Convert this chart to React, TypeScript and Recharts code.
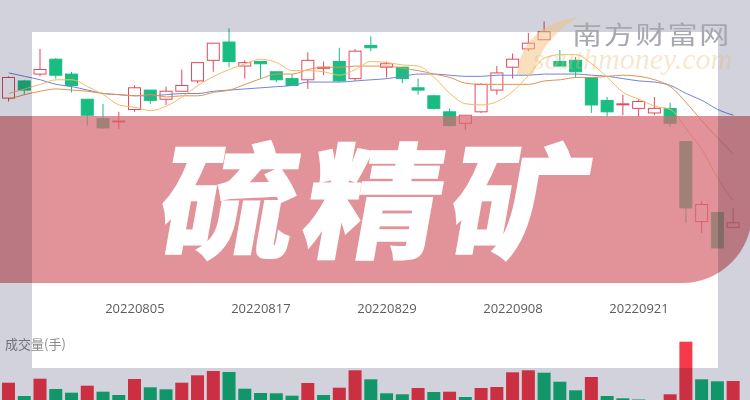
import { Bar, Cell, ComposedChart, Line, XAxis, YAxis } from "recharts"

const dates = [
  "20220726", "20220727", "20220728", "20220729", "20220801", "20220802", "20220803", "20220804",
  "20220805", "20220808", "20220809", "20220810", "20220811", "20220812", "20220815", "20220816",
  "20220817", "20220818", "20220819", "20220822", "20220823", "20220824", "20220825", "20220826",
  "20220829", "20220830", "20220831", "20220901", "20220902", "20220905", "20220906", "20220907",
  "20220908", "20220909", "20220913", "20220914", "20220915", "20220916", "20220919", "20220920",
  "20220921", "20220922", "20220923", "20220926", "20220927", "20220928", "20220929",
]

const opens = [
  8.73, 8.88, 8.94, 9.07, 8.94, 8.72, 8.55, 8.53, 8.63, 8.8, 8.72, 8.79, 8.88, 9.06, 9.22, 9.01,
  9.05, 8.96, 8.9, 8.89, 8.99, 9.05, 8.9, 9.19, 9.0, 9.0, 8.82, 8.75, 8.61, 8.51, 8.61, 8.8,
  9.0, 9.16, 9.24, 9.05, 9.06, 8.91, 8.71, 8.68, 8.64, 8.6, 8.64, 8.35, 7.65, 7.73, 7.6,
]
const closes = [
  8.91, 8.8, 8.98, 8.93, 8.84, 8.58, 8.47, 8.53, 8.82, 8.71, 8.79, 8.84, 9.04, 9.21, 9.05, 9.04,
  9.03, 8.89, 8.84, 9.06, 9.0, 8.88, 9.14, 9.17, 9.03, 8.9, 8.8, 8.64, 8.49, 8.58, 8.85, 8.95,
  9.07, 9.21, 9.31, 9.01, 8.96, 8.67, 8.61, 8.68, 8.7, 8.64, 8.51, 7.77, 7.8, 7.42, 7.64,
]
const highs = [
  8.92, 8.89, 9.16, 9.08, 8.96, 8.72, 8.68, 8.61, 8.84, 8.8, 8.83, 8.98, 9.04, 9.21, 9.34, 9.06,
  9.05, 8.96, 8.94, 9.13, 9.05, 9.17, 9.16, 9.27, 9.05, 9.0, 8.9, 8.76, 8.64, 8.58, 8.86, 9.01,
  9.12, 9.3, 9.4, 9.15, 9.09, 8.91, 8.74, 8.76, 8.72, 8.74, 8.69, 8.35, 7.83, 7.73, 7.77,
]
const lows = [
  8.7, 8.76, 8.92, 8.9, 8.78, 8.49, 8.46, 8.46, 8.61, 8.68, 8.67, 8.79, 8.86, 8.96, 9.0, 8.9,
  8.9, 8.87, 8.84, 8.81, 8.93, 8.87, 8.88, 9.14, 8.91, 8.86, 8.76, 8.63, 8.48, 8.45, 8.6, 8.76,
  8.9, 9.14, 9.24, 9.01, 8.91, 8.6, 8.57, 8.58, 8.57, 8.58, 8.48, 7.64, 7.55, 7.42, 7.6,
]

const ma5 = [
  8.77, 8.81, 8.85, 8.89, 8.89, 8.83, 8.76, 8.67, 8.65, 8.62, 8.66, 8.74, 8.84, 8.92, 8.98, 9.03,
  9.07, 9.04, 8.97, 8.97, 8.96, 8.93, 8.98, 9.05, 9.04, 9.02, 9.01, 8.91, 8.77, 8.68, 8.67, 8.7,
  8.79, 8.93, 9.08, 9.11, 9.11, 9.03, 8.91, 8.78, 8.72, 8.66, 8.63, 8.46, 8.28, 8.03, 7.83,
]
const ma10 = [
  8.72, 8.76, 8.79, 8.81, 8.8, 8.79, 8.77, 8.76, 8.75, 8.76, 8.74, 8.75, 8.75, 8.78, 8.8, 8.85,
  8.9, 8.94, 8.94, 8.98, 9.0, 9.0, 9.01, 9.01, 9.01, 8.99, 8.97, 8.94, 8.91, 8.86, 8.85, 8.85,
  8.85, 8.85, 8.88, 8.89, 8.91, 8.91, 8.92, 8.93, 8.92, 8.89, 8.83, 8.69, 8.53, 8.38, 8.24,
]
const ma20 = [
  8.95, 8.92, 8.89, 8.85, 8.83, 8.8, 8.77, 8.76, 8.75, 8.75, 8.76, 8.77, 8.77, 8.79, 8.8, 8.81,
  8.82, 8.83, 8.84, 8.87, 8.87, 8.87, 8.88, 8.89, 8.9, 8.92, 8.94, 8.94, 8.93, 8.92, 8.92, 8.93,
  8.93, 8.93, 8.94, 8.94, 8.94, 8.93, 8.92, 8.9, 8.88, 8.87, 8.84, 8.77, 8.71, 8.63, 8.58,
]

// 成交量(手)
const volumes = [
  19300, 6000, 23300, 13000, 9300, 16300, 10300, 7000, 23000, 14700, 12700, 19300, 26700, 31000, 30000, 13300,
  9000, 8700, 6300, 19000, 7000, 14300, 31700, 22700, 8700, 7700, 14000, 10000, 10300, 5000, 14000, 15000,
  29700, 31700, 29300, 20300, 11700, 25000, 6000, 3700, 2500, 1500, 7700, 60300, 22700, 20700, 21000,
]
const volumeUp = [
  1, 0, 1, 0, 0, 1, 0, 0, 1, 0, 0, 1, 1, 1, 0, 0,
  0, 0, 0, 1, 0, 1, 1, 0, 0, 0, 1, 0, 1, 0, 1, 1,
  1, 1, 0, 0, 0, 1, 0, 0, 0, 0, 1, 1, 0, 0, 1,
]

const labelDates = ["20220805", "20220817", "20220829", "20220908", "20220921"]
const priceTicks = [7.1, 8.0, 8.9]

const table = dates.map((date, i) => ({
  date,
  open: opens[i],
  close: closes[i],
  high: highs[i],
  low: lows[i],
  range: [lows[i], highs[i]],
  ma5: ma5[i],
  ma10: ma10[i],
  ma20: ma20[i],
  volume: volumes[i],
  up: volumeUp[i] === 1,
}))

const RED = "#e4485d"
const GREEN = "#19bd82"
const VOL_RED = "#f7394c"
const VOL_GREEN = "#17b57b"
const GRAY = "#d1d2db"

function Candle(props: any) {
  const { x, y, width, height, payload } = props
  if (!payload || height == null) return null
  const { open, close, high, low } = payload
  const up = close >= open
  const color = up ? RED : GREEN
  const pix = (v: number) => y + ((high - v) / (high - low)) * height
  const top = pix(Math.max(open, close))
  const bottom = pix(Math.min(open, close))
  const cx = x + width / 2
  return (
    <g>
      <line x1={cx} x2={cx} y1={y} y2={y + height} stroke={color} strokeWidth={1} />
      <rect
        x={x + 0.5}
        y={top}
        width={width - 1}
        height={Math.max(bottom - top, 1)}
        fill={up ? "#fff" : color}
        stroke={color}
        strokeWidth={1}
      />
    </g>
  )
}

function PriceTick({ y, payload }: any) {
  return (
    <text x={8} y={y} dy={4.5} fill="#666" fontSize={13.5} fontFamily="Open Sans">
      {Number(payload.value).toFixed(1)}
    </text>
  )
}

const overlay = (left: number, top: number, width: number, height: number) => ({
  position: "absolute" as const,
  left,
  top,
  width,
  height,
  background: GRAY,
  mixBlendMode: "multiply" as const,
})

export default function App() {
  return (
    <div
      style={{
        position: "fixed",
        left: 0,
        top: 0,
        width: 750,
        height: 400,
        overflow: "hidden",
        background: "#fff",
      }}
    >
      <div style={{ position: "absolute", left: 0, top: 0 }}>
        <ComposedChart
          width={750}
          height={400}
          data={table}
          margin={{ top: 15.72, right: 8.6, bottom: 74, left: 1 }}
        >
          <XAxis
            dataKey="date"
            ticks={labelDates}
            interval={0}
            tickLine={false}
            axisLine={false}
            height={30}
            tick={{ fill: "#5c5c5c", fontSize: 13, fontFamily: "Open Sans" }}
          />
          <YAxis
            domain={[7.0, 9.45]}
            ticks={priceTicks}
            width={0}
            axisLine={false}
            tickLine={false}
            tick={(p: any) => <PriceTick {...p} />}
          />
          <Bar
            dataKey="range"
            barSize={13}
            isAnimationActive={false}
            shape={(p: any) => <Candle {...p} />}
          />
          <Line type="monotone" dataKey="ma20" stroke="#6f86d8" strokeWidth={1} dot={false} isAnimationActive={false} />
          <Line type="monotone" dataKey="ma10" stroke="#e4924e" strokeWidth={1} dot={false} isAnimationActive={false} />
          <Line type="monotone" dataKey="ma5" stroke="#f4bb66" strokeWidth={1} dot={false} isAnimationActive={false} />
        </ComposedChart>
      </div>

      <div style={{ position: "absolute", left: 0, top: 300 }}>
        <ComposedChart
          width={750}
          height={110}
          data={table}
          margin={{ top: 2, right: 8.6, bottom: 8, left: 1 }}
        >
          <XAxis dataKey="date" hide />
          <YAxis domain={[0, 100000]} hide />
          <Bar dataKey="volume" barSize={13} isAnimationActive={false}>
            {table.map((d) => (
              <Cell key={d.date} fill={d.up ? VOL_RED : VOL_GREEN} />
            ))}
          </Bar>
        </ComposedChart>
      </div>

      <div
        style={{
          position: "absolute",
          left: 5,
          top: 337,
          fontSize: 13,
          lineHeight: "13px",
          color: "#8a8a8a",
          fontFamily: '"Noto Sans CJK SC"',
          whiteSpace: "nowrap",
        }}
      >
        成交量(手)
      </div>

      {/* pink banner */}
      <div
        style={{
          position: "absolute",
          left: 0,
          top: 116,
          width: 752,
          height: 167,
          background: "rgba(214,106,114,0.72)",
          borderBottomRightRadius: 70,
        }}
      />
      <div
        style={{
          position: "absolute",
          left: 163,
          top: 132,
          fontSize: 124,
          lineHeight: "124px",
          fontWeight: 700,
          fontFamily: '"Noto Sans CJK SC"',
          color: "#fff",
          WebkitTextStroke: "3px #fff",
          letterSpacing: 8,
          transform: "skewX(-10deg) scaleX(1.1)",
          transformOrigin: "left center",
          whiteSpace: "nowrap",
        }}
      >
        硫精矿
      </div>

      {/* grey frame around the white panel */}
      <div style={overlay(0, 0, 750, 32)} />
      <div style={overlay(0, 368, 750, 32)} />
      <div style={overlay(0, 32, 32, 336)} />
      <div style={overlay(718, 32, 32, 336)} />

      {/* watermark */}
      <svg width={750} height={400} style={{ position: "absolute", left: 0, top: 0 }}>
        <path
          d="M 517 75 C 519 45 540 22 579 17 C 556 30 540 48 533 75 Z"
          fill="rgba(242,192,125,0.5)"
        />
      </svg>
      <div
        style={{
          position: "absolute",
          left: 533,
          top: 47,
          fontSize: 30,
          lineHeight: "24px",
          fontStyle: "italic",
          fontFamily: '"Liberation Serif"',
          color: "rgba(232,182,120,0.35)",
          whiteSpace: "nowrap",
        }}
      >
        southmoney.com
      </div>
      <div
        style={{
          position: "absolute",
          left: 572,
          top: 22,
          fontSize: 25,
          lineHeight: "22px",
          letterSpacing: 1.5,
          fontFamily: '"Noto Sans CJK SC"',
          color: "#a6a7b0",
          transform: "scaleX(1.2)",
          transformOrigin: "left top",
          whiteSpace: "nowrap",
        }}
      >
        南方财富网
      </div>
    </div>
  )
}
